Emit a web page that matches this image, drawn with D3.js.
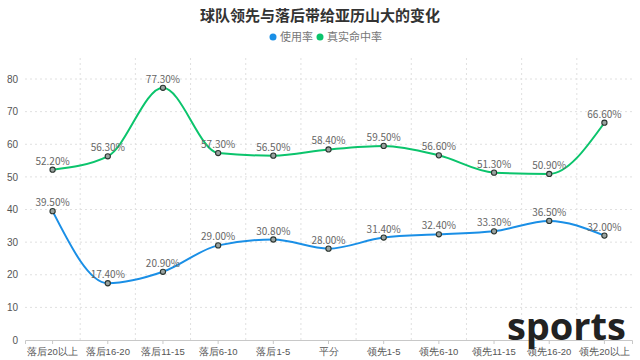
<!DOCTYPE html>
<html><head><meta charset="utf-8">
<script src="https://cdn.jsdelivr.net/npm/d3@7"></script>
<style>
html,body{margin:0;padding:0;background:#fff;}
svg{display:block;font-family:"Microsoft YaHei","Noto Sans CJK SC",sans-serif;}
</style></head><body>
<svg id="c" width="640" height="360"></svg>
<script>
const categories = ["落后20以上","落后16-20","落后11-15","落后6-10","落后1-5","平分","领先1-5","领先6-10","领先11-15","领先16-20","领先20以上"];
const usageRate = [39.5,17.4,20.9,29.0,30.8,28.0,31.4,32.4,33.3,36.5,32.0];
const trueShooting = [52.2,56.3,77.3,57.3,56.5,58.4,59.5,56.6,51.3,50.9,66.6];
const yTicks = [0,10,20,30,40,50,60,70,80];
const seriesNames = ["使用率","真实命中率"];
const colors = ["#1a8fe6","#0bc46c"];

(function(){
const svg = d3.select("#c");
const mLeft = 25, mRight = 632, mTop = 79, mBottom = 340;
const x = d3.scaleBand().domain(categories).range([mLeft, mRight]);
const y = d3.scaleLinear().domain([0,80]).range([mBottom, mTop]);
const cx = d => x(d) + x.bandwidth()/2;

// horizontal grid
svg.append("g").selectAll("line").data(yTicks.filter(t=>t>0)).join("line")
  .attr("x1", mLeft).attr("x2", mRight).attr("y1", d=>y(d)).attr("y2", d=>y(d))
  .attr("stroke","#e0e0e0").attr("stroke-dasharray","2,3");
// vertical grid at band boundaries
svg.append("g").selectAll("line").data(categories.slice(1)).join("line")
  .attr("x1", d=>x(d)).attr("x2", d=>x(d)).attr("y1", 58).attr("y2", mBottom)
  .attr("stroke","#e0e0e0").attr("stroke-dasharray","2,3");

// y axis labels
const yAxis = d3.axisLeft(y).tickValues(yTicks).tickSize(0).tickPadding(6);
const gy = svg.append("g").attr("transform",`translate(${mLeft-1},0)`).call(yAxis);
gy.select(".domain").remove();
gy.selectAll("text").attr("fill","#555").attr("font-size",10).style("font-family","inherit");

// x axis
const xAxis = d3.axisBottom(x).tickSize(4).tickPadding(4);
const gx = svg.append("g").attr("transform",`translate(0,${mBottom})`).call(xAxis);
gx.select(".domain").attr("stroke","#c8c8c8");
gx.selectAll(".tick line").attr("stroke","#c8c8c8");
gx.selectAll("text").attr("fill","#555").attr("font-size",9.5).style("font-family","inherit");

// lines
const seriesData = [usageRate, trueShooting];
seriesData.forEach((vals, i) => {
  const pts = vals.map((v, j) => ({c: categories[j], v}));
  const line = d3.line().x(d=>cx(d.c)).y(d=>y(d.v)).curve(d3.curveMonotoneX);
  svg.append("path").datum(pts).attr("d", line).attr("fill","none")
    .attr("stroke", colors[i]).attr("stroke-width", 2);
  svg.append("g").selectAll("circle").data(pts).join("circle")
    .attr("cx", d=>cx(d.c)).attr("cy", d=>y(d.v)).attr("r", 2.6)
    .attr("fill", "#9aa3a0").attr("stroke","#2b3530").attr("stroke-width",1.1);
  svg.append("g").selectAll("text").data(pts).join("text")
    .attr("x", d=>cx(d.c)).attr("y", d=>y(d.v)-5)
    .attr("text-anchor","middle").attr("font-size",10).attr("fill","#666")
    .text(d=>d.v.toFixed(2)+"%");
});

// title
svg.append("text").attr("x",320).attr("y",21).attr("text-anchor","middle")
  .attr("font-size",15).attr("font-weight","bold").attr("fill","#333")
  .text("球队领先与落后带给亚历山大的变化");

// legend
const lg = svg.append("g");
const legendX = [273, 320];
seriesNames.forEach((n,i)=>{
  lg.append("circle").attr("cx",legendX[i]).attr("cy",37).attr("r",3.5).attr("fill",colors[i]);
  lg.append("text").attr("x",legendX[i]+7).attr("y",41).attr("font-size",11).attr("fill","#777").text(n);
});

// watermark
svg.append("text").attr("x",626).attr("y",340).attr("text-anchor","end")
  .attr("font-size",38).attr("font-weight","bold").attr("fill","#222")
  .style("font-family","'Open Sans','DejaVu Sans',sans-serif").text("sports");
})();
</script>
</body></html>
